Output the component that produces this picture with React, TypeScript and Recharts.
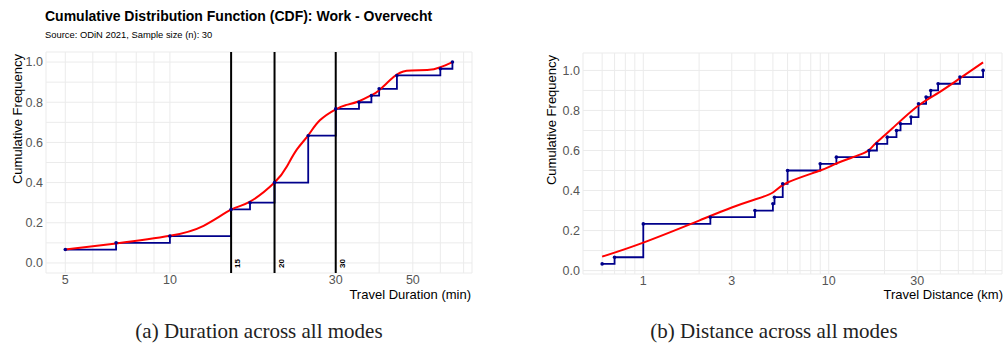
import React from 'react';
import {
  ComposedChart,
  Line,
  XAxis,
  YAxis,
  CartesianGrid,
  ReferenceLine
} from 'recharts';

// sample size
const N = 30;

// (a) duration: observed values and cumulative counts
const durMinutes = [5, 7, 10, 15, 17, 20, 25, 30, 35, 38, 40, 45, 60, 65];
const durCumCount = [2, 3, 4, 8, 9, 12, 19, 23, 24, 25, 26, 28, 29, 30];
// smoothed CDF
const durSmoothX = [5, 7, 10, 12.5, 15, 17, 20, 21.7, 23.2, 25, 27, 30, 32, 35, 38, 40, 44, 48, 55, 60, 65];
const durSmoothY = [0.067, 0.097, 0.135, 0.185, 0.265, 0.305, 0.4, 0.48, 0.565, 0.635, 0.71, 0.765, 0.785, 0.805, 0.835, 0.86, 0.925, 0.957, 0.96, 0.974, 1.0];
const durThresholds = [15, 20, 30];
const durTicks = [5, 6, 7, 8, 9, 10, 20, 30, 40, 50, 60, 70];
const durLabels = [5, 10, 30, 50];

// (b) distance
const distKm = [0.6, 0.7, 1.0, 2.3, 4.0, 5.0, 5.1, 5.65, 6.0, 9.0, 11.0, 16.5, 18.2, 20.7, 23.2, 24.4, 27.8, 30.5, 33.5, 35.5, 38.9, 51, 68];
const distCumCount = [1, 2, 7, 8, 9, 10, 11, 13, 15, 16, 17, 18, 19, 20, 21, 22, 23, 25, 26, 27, 28, 29, 30];
const distSmoothX = [0.6, 1, 2, 3, 4, 5, 6, 9, 11, 14.6, 16.5, 18, 22, 30, 39, 50, 68];
const distSmoothY = [0.07, 0.14, 0.25, 0.315, 0.355, 0.39, 0.44, 0.5, 0.535, 0.578, 0.603, 0.637, 0.71, 0.82, 0.888, 0.955, 1.04];
const distTicks = [0.6, 0.7, 0.8, 0.9, 1, 2, 3, 4, 5, 6, 7, 8, 9, 10, 20, 30, 40, 50, 60, 70];
const distLabels = [1, 3, 10, 30];

const yTicks = [0, 0.1, 0.2, 0.3, 0.4, 0.5, 0.6, 0.7, 0.8, 0.9, 1.0];

const durSteps = durMinutes.map((x, i) => ({ x, y: durCumCount[i] / N }));
const durSmooth = durSmoothX.map((x, i) => ({ x, y: durSmoothY[i] }));
const distSteps = distKm.map((x, i) => ({ x, y: distCumCount[i] / N }));
const distSmooth = distSmoothX.map((x, i) => ({ x, y: distSmoothY[i] }));

const FONT = '"Liberation Sans", Arial, sans-serif';
const BLUE = '#00008B';
const tickStyle = { fill: '#555', fontSize: 12.5, fontFamily: FONT };

const yFmt = (v: number) => (Math.round(v * 10) % 2 === 0 ? v.toFixed(1) : '');

function VLabel(props: any) {
  const { viewBox, text } = props;
  if (!viewBox) return null;
  const x = viewBox.x + 9;
  const y = viewBox.y + viewBox.height - 5;
  return (
    <text x={x} y={y} transform={`rotate(-90 ${x} ${y})`} fontSize={8} fontWeight="bold" fill="#000" fontFamily={FONT}>
      {text}
    </text>
  );
}

function CdfChart(props: {
  width: number;
  margin: any;
  domainX: [number, number];
  domainY: [number, number];
  xTicks: number[];
  xLabels: number[];
  steps: any[];
  smooth: any[];
  thresholds?: number[];
}) {
  const { width, margin, domainX, domainY, xTicks, xLabels, steps, smooth, thresholds = [] } = props;
  return (
    <ComposedChart width={width} height={300} margin={margin}>
      <CartesianGrid stroke="#ebebeb" strokeWidth={1} />
      <XAxis
        type="number"
        dataKey="x"
        scale="log"
        domain={domainX}
        allowDataOverflow
        ticks={xTicks}
        tickFormatter={(v: number) => (xLabels.includes(v) ? String(v) : '')}
        axisLine={false}
        tickLine={false}
        tickSize={0}
        tickMargin={2}
        height={22}
        tick={tickStyle}
        interval={0}
      />
      <YAxis
        type="number"
        domain={domainY}
        allowDataOverflow
        ticks={yTicks}
        tickFormatter={yFmt}
        axisLine={false}
        tickLine={false}
        tickSize={0}
        tickMargin={3}
        width={36}
        tick={tickStyle}
        interval={0}
      />
      <Line
        data={steps}
        dataKey="y"
        type="stepAfter"
        stroke={BLUE}
        strokeWidth={1.8}
        dot={{ r: 1.8, fill: BLUE, stroke: 'none' }}
        isAnimationActive={false}
      />
      <Line
        data={smooth}
        dataKey="y"
        type="natural"
        stroke="#ff0000"
        strokeWidth={2}
        dot={false}
        isAnimationActive={false}
      />
      {thresholds.map(t => (
        <ReferenceLine
          key={t}
          x={t}
          stroke="#000"
          strokeWidth={2}
          label={(p: any) => <VLabel {...p} text={String(t)} />}
        />
      ))}
    </ComposedChart>
  );
}

export default function App() {
  return (
    <div style={{ position: 'absolute', left: 0, top: 0, width: 1005, height: 351, background: '#fff', fontFamily: FONT }}>
      <div style={{ position: 'absolute', left: 0, top: 0 }}>
        <CdfChart
          width={480}
          margin={{ top: 52, right: 8, bottom: 5, left: 10 }}
          domainX={[4.4, 74]}
          domainY={[-0.05, 1.05]}
          xTicks={durTicks}
          xLabels={durLabels}
          steps={durSteps}
          smooth={durSmooth}
          thresholds={durThresholds}
        />
      </div>
      <div style={{ position: 'absolute', left: 520, top: 0 }}>
        <CdfChart
          width={485}
          margin={{ top: 53, right: 3, bottom: 4, left: 27 }}
          domainX={[0.473, 86]}
          domainY={[-0.017, 1.087]}
          xTicks={distTicks}
          xLabels={distLabels}
          steps={distSteps}
          smooth={distSmooth}
        />
      </div>
      <svg width={1005} height={351} style={{ position: 'absolute', left: 0, top: 0, pointerEvents: 'none' }}>
        <g fontFamily={FONT} fill="#000">
          <text x={45} y={21} fontSize={14} fontWeight="bold">
            Cumulative Distribution Function (CDF): Work - Overvecht
          </text>
          <text x={45} y={38} fontSize={9.4}>
            Source: ODiN 2021, Sample size (n): 30
          </text>
          <text x={0} y={0} fontSize={13} textAnchor="middle" transform="translate(22 119) rotate(-90)">
            Cumulative Frequency
          </text>
          <text x={471} y={299} fontSize={13} textAnchor="end">
            Travel Duration (min)
          </text>
          <text x={0} y={0} fontSize={13} textAnchor="middle" transform="translate(556 120) rotate(-90)">
            Cumulative Frequency
          </text>
          <text x={1003} y={299} fontSize={13} textAnchor="end">
            Travel Distance (km)
          </text>
        </g>
        <g fontFamily='"Liberation Serif", "DejaVu Serif", serif' fill="#222" fontSize={21}>
          <text x={259} y={338} textAnchor="middle">(a) Duration across all modes</text>
          <text x={774} y={338} textAnchor="middle">(b) Distance across all modes</text>
        </g>
      </svg>
    </div>
  );
}
